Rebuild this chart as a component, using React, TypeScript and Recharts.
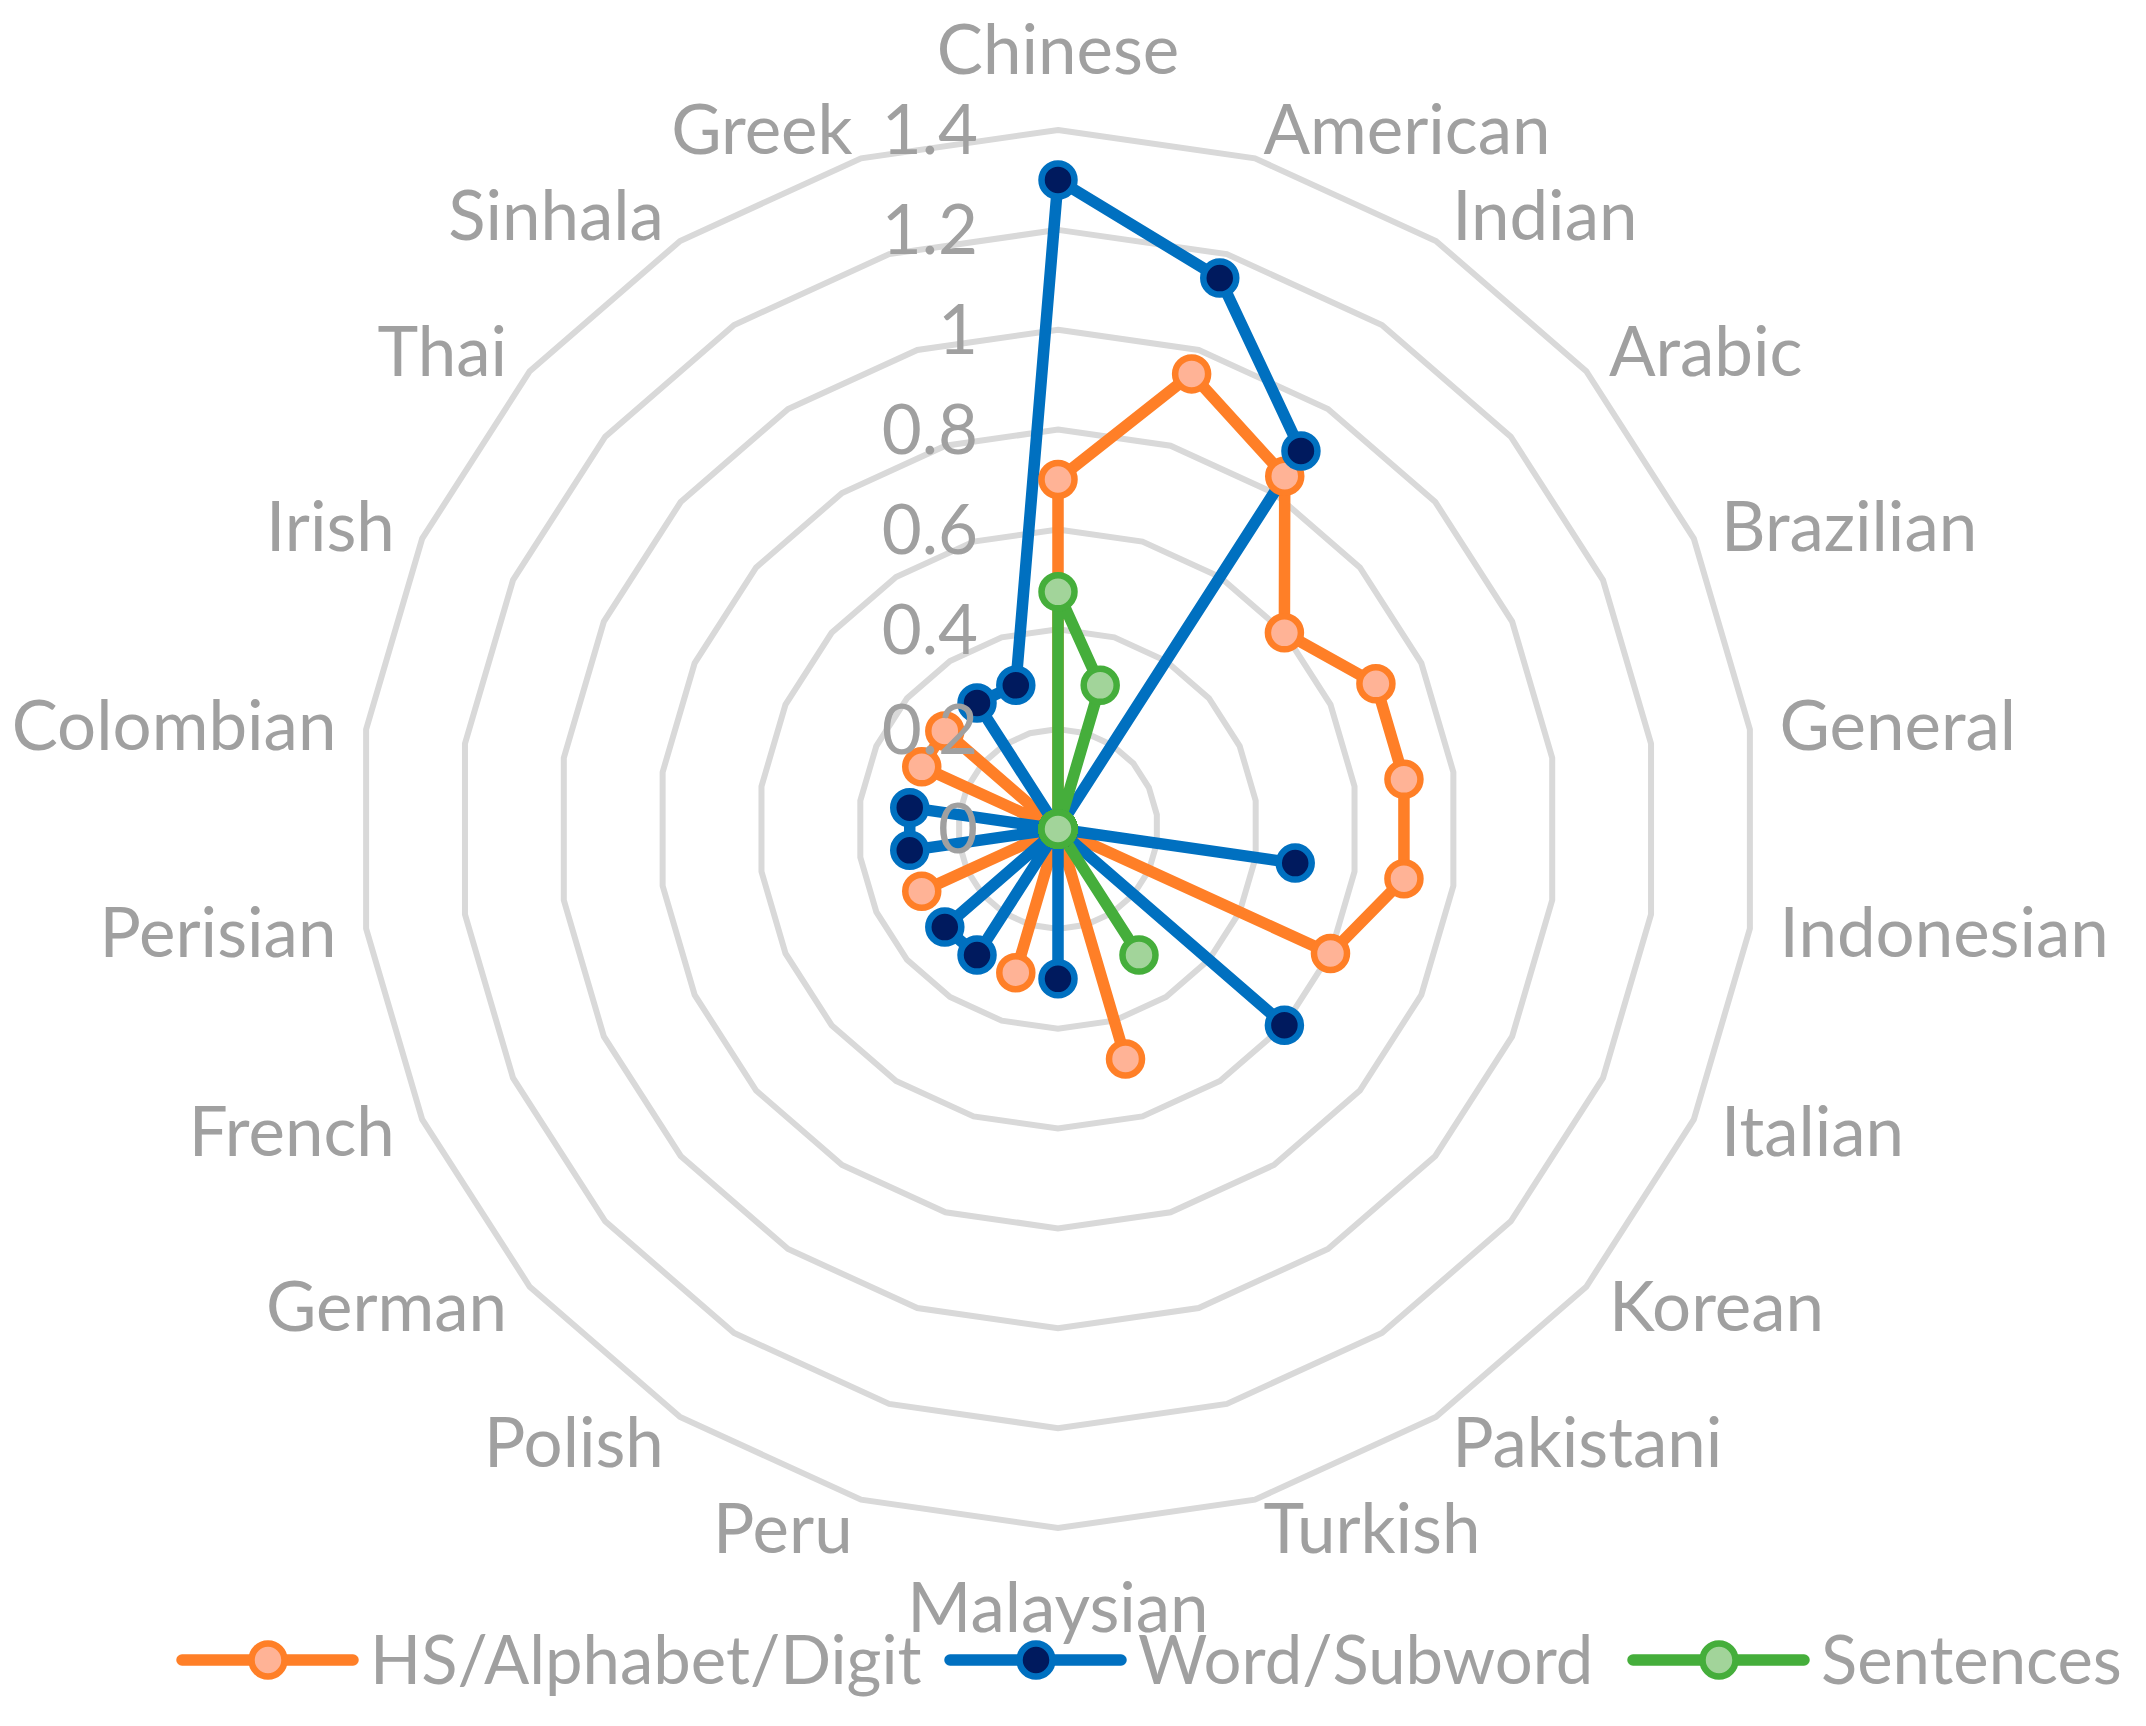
import { RadarChart, Radar, PolarGrid, PolarAngleAxis, PolarRadiusAxis } from 'recharts'

const categories = [
    'Chinese', 'American', 'Indian', 'Arabic', 'Brazilian', 'General', 'Indonesian', 'Italian',
    'Korean', 'Pakistani', 'Turkish', 'Malaysian', 'Peru', 'Polish', 'German', 'French',
    'Perisian', 'Colombian', 'Irish', 'Thai', 'Sinhala', 'Greek',
]

const hsAlphabetDigit = [0.7, 0.95, 0.84, 0.6, 0.7, 0.7, 0.7, 0.6, 0, 0, 0.48, 0, 0.3, 0, 0, 0.3, 0, 0, 0.3, 0.3, 0, 0]
const wordSubword = [1.3, 1.15, 0.9, 0, 0, 0, 0.48, 0, 0.6, 0, 0, 0.3, 0, 0.3, 0.3, 0, 0.3, 0.3, 0, 0, 0.3, 0.3]
const sentences = [0.475, 0.3, 0, 0, 0, 0, 0, 0, 0, 0.3, 0, 0, 0, 0, 0, 0, 0, 0, 0, 0, 0, 0]

const radiusTicks = [0, 0.2, 0.4, 0.6, 0.8, 1, 1.2, 1.4]
const radiusTickLabels = ['0', '0.2', '0.4', '0.6', '0.8', '1', '1.2', '1.4']

const series = [
    { key: 'hs', name: 'HS/Alphabet/Digit', values: hsAlphabetDigit, stroke: '#FF7F27', dotFill: '#FFB396' },
    { key: 'word', name: 'Word/Subword', values: wordSubword, stroke: '#0070C0', dotFill: '#001A5E' },
    { key: 'sent', name: 'Sentences', values: sentences, stroke: '#45AE3B', dotFill: '#A2D49A' },
]

const data = categories.map((category, i) => {
    const row: any = { category }
    series.forEach((s) => { row[s.key] = s.values[i] })
    return row
})

const W = 2146
const H = 1726
const CX = 1058
const CY = 829
const R = 699
const FONT = 'Lato, "Open Sans", sans-serif'
const FS = 69
const LEGEND_FS = 67
const GRAY = '#a0a0a0'
const capMid = FS * 0.355

// marker / line sizes
const LINE_W = 11.5
const DOT_R = 16.5
const DOT_SW = 6.5

function AngleTick(props: any) {
    const { index, payload } = props
    const deg = 90 - index * 360 / categories.length
    const a = deg * Math.PI / 180
    const cos = Math.cos(a)
    const sin = Math.sin(a)
    let x = CX + (R + 30) * cos
    let y = CY - (R + 30) * sin
    let anchor = cos > 0 ? 'start' : 'end'
    if (Math.abs(cos) < 0.05) {
        anchor = 'middle'
        y += sin > 0 ? -50 : 50
    }
    return (
        <text x={x} y={y + capMid} textAnchor={anchor} fill={GRAY} fontSize={FS} fontFamily={FONT}>
            {payload.value}
        </text>
    )
}

function RadiusTick(props: any) {
    const { x, y, payload } = props
    const idx = radiusTicks.findIndex((t) => Math.abs(t - payload.value) < 1e-6)
    const label = idx >= 0 ? radiusTickLabels[idx] : String(payload.value)
    return (
        <text x={x - 80} y={y + capMid} textAnchor="end" fill={GRAY} fontSize={FS} fontFamily={FONT}>
            {label}
        </text>
    )
}

const legendX = [182, 950, 1633]

export default function App() {
    return (
        <div style={{ position: 'absolute', left: 0, top: 0, width: W, height: H, background: '#fff' }}>
            <RadarChart
                width={W}
                height={H}
                cx={CX}
                cy={CY}
                outerRadius={R}
                data={data}
                margin={{ top: 0, right: 0, bottom: 0, left: 0 }}
            >
                <PolarGrid
                    gridType="polygon"
                    radialLines={false}
                    stroke="#d9d9d9"
                    strokeWidth={6}
                    polarRadius={radiusTicks.map((t) => (t / 1.4) * R)}
                />
                <PolarAngleAxis dataKey="category" tick={AngleTick} axisLine={false} tickLine={false} />
                {series.map((s) => (
                    <Radar
                        key={s.key}
                        name={s.name}
                        dataKey={s.key}
                        stroke={s.stroke}
                        strokeWidth={LINE_W}
                        strokeLinejoin="round"
                        fill="none"
                        fillOpacity={0}
                        dot={{ r: DOT_R, fill: s.dotFill, stroke: s.stroke, strokeWidth: DOT_SW, fillOpacity: 1 }}
                        isAnimationActive={false}
                    />
                ))}
                <PolarRadiusAxis
                    angle={90}
                    type="number"
                    domain={[0, 1.4]}
                    ticks={radiusTicks as any}
                    tickCount={8}
                    allowDecimals
                    axisLine={false}
                    tickLine={false}
                    tick={RadiusTick}
                    {...({ zIndex: 2000 } as any)}
                />
            </RadarChart>

            <svg width={W} height={126} style={{ position: 'absolute', left: 0, top: 1600 }}>
                {series.map((s, i) => {
                    const x0 = legendX[i]
                    return (
                        <g key={s.key}>
                            <line x1={x0} y1={60} x2={x0 + 171} y2={60} stroke={s.stroke} strokeWidth={LINE_W} strokeLinecap="round" />
                            <circle cx={x0 + 86} cy={60} r={DOT_R} fill={s.dotFill} stroke={s.stroke} strokeWidth={DOT_SW} />
                            <text x={x0 + 188} y={60 + LEGEND_FS * 0.355} fill={GRAY} fontSize={LEGEND_FS} fontFamily={FONT}>
                                {s.name}
                            </text>
                        </g>
                    )
                })}
            </svg>
        </div>
    )
}
